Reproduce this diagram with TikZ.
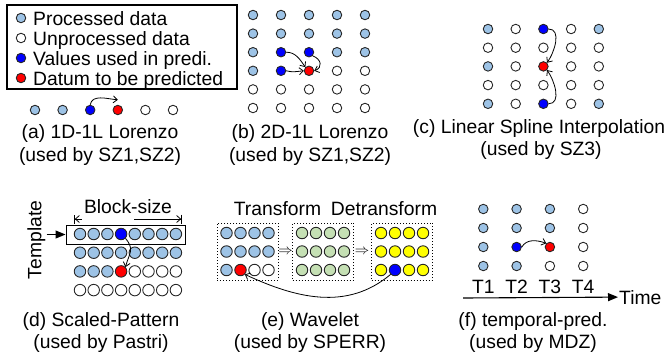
\documentclass[tikz,border=0pt]{standalone}
\usepackage{fontspec}
\setmainfont{Liberation Sans}
\usetikzlibrary{arrows.meta}
\definecolor{cp}{HTML}{9DC3E6} % processed
\definecolor{cu}{HTML}{FFFFFF} % unprocessed
\definecolor{cb}{HTML}{0000FF} % used in prediction
\definecolor{cr}{HTML}{FF0000} % to be predicted
\definecolor{cg}{HTML}{C5E0B4} % wavelet coeff.
\definecolor{cy}{HTML}{FFFF00} % detransformed
\tikzset{
    dot/.style = {circle, draw=black!85, line width=0.9pt, inner sep=0pt, minimum size=9.5pt},
    dotl/.style = {dot, minimum size=11.5pt},
    txt/.style = {inner sep=1pt, font=\fontsize{19.3}{22}\selectfont},
    edgen/.style = {-{Straight Barb[length=4pt,width=7pt]}, line width=0.8pt},
    edgef/.style = {-{Triangle[length=10pt,width=8pt]}, line width=1.1pt},
    dimenl/.style = {{Bar[width=9pt]Straight Barb[length=4pt,width=7pt]}-, line width=0.8pt},
    dimenr/.style = {-{Straight Barb[length=4pt,width=7pt]Bar[width=9pt]}, line width=0.8pt},
    wbox/.style = {draw, dotted, line width=1pt, minimum width=61pt, minimum height=57pt, inner sep=0pt},
    lbox/.style = {draw, line width=1.1pt, inner sep=0pt}
}
\begin{document}
\begin{tikzpicture}[x=1pt,y=-1pt]
\useasboundingbox (0,0) rectangle (671,354);
%
% legend
\node[lbox, minimum width=230pt, minimum height=84pt] (legend) at (122,47) {};
\node[dot,fill=cp] (l1) at (21,18) {};
\node[dot,fill=cu] (l2) at (21,38) {};
\node[dot,fill=cb] (l3) at (21,58) {};
\node[dot,fill=cr] (l4) at (21,78) {};
\node[txt,anchor=base west] (lt1) at (32,25) {Processed data};
\node[txt,anchor=base west] (lt2) at (32,45) {Unprocessed data};
\node[txt,anchor=base west] (lt3) at (32,65) {Values used in predi.};
\node[txt,anchor=base west] (lt4) at (32,85) {Datum to be predicted};
%
% (a) 1D
\foreach \f [count=\c] in {cp,cp,cb,cr,cu,cu}
    \node[dot,fill=\f] (a\c) at ({7.4+27.6*\c},110) {};
\draw[edgen] (a3.north) to[out=80,in=175] ([yshift=5pt]a4.north);
\node[txt,anchor=base] (capa1) at (100,138) {(a) 1D-1L Lorenzo};
\node[txt,anchor=base] (capa2) at (100,161) {(used by SZ1,SZ2)};
%
% (b) 2D
\foreach \cl [count=\r] in {{cp,cp,cp,cp,cp},{cp,cp,cp,cp,cp},{cp,cb,cb,cp,cp},
                            {cp,cb,cr,cu,cu},{cu,cu,cu,cu,cu},{cu,cu,cu,cu,cu}}
    \foreach \f [count=\c] in \cl
        \node[dot,fill=\f] (b-\c-\r) at ({225+28*\c},{-3.6+18.6*\r}) {};
\draw[edgen] (b-2-3.east) to[out=0,in=125] (b-3-4.north west);
\draw[edgen] (b-3-3.south east) to[out=-20,in=20,looseness=1.6] (b-3-4.east);
\draw[edgen] (b-2-4.east) to[out=-15,in=185] (b-3-4.west);
\node[txt,anchor=base] (capb1) at (310,138) {(b) 2D-1L Lorenzo};
\node[txt,anchor=base] (capb2) at (310,161) {(used by SZ1,SZ2)};
%
% (c) spline
\foreach \cl [count=\r] in {{cp,cu,cb,cu,cp},{cu,cu,cu,cu,cu},{cp,cu,cr,cu,cu},
                            {cu,cu,cu,cu,cu},{cp,cu,cb,cu,cp}}
    \foreach \f [count=\c] in \cl
        \node[dot,fill=\f] (c-\c-\r) at ({460.3+27.7*\c},{10.3+18.7*\r}) {};
\draw[edgen] (c-3-1.east) to[out=0,in=55] (c-3-3.north east);
\draw[edgen] (c-3-5.east) to[out=0,in=-55] (c-3-3.south east);
\node[txt,anchor=base] (capc1) at (539,133) {(c) Linear Spline Interpolation};
\node[txt,anchor=base] (capc2) at (541,155) {(used by SZ3)};
%
% (d) scaled pattern
\node[lbox, line width=1pt, minimum width=119pt, minimum height=19pt] (tmpl) at (125.5,234.5) {};
\foreach \cl [count=\r] in {{cp,cp,cp,cb,cp,cp,cp,cp},{cp,cp,cp,cp,cp,cp,cp,cp},
                            {cp,cp,cp,cr,cu,cu,cu,cu},{cu,cu,cu,cu,cu,cu,cu,cu}}
    \foreach \f [count=\c] in \cl
        \node[dotl,fill=\f] (d-\c-\r) at ({66.3+13.7*\c},{215.3+18.7*\r}) {};
\node[txt,rotate=90] (tmplt) at (36.5,240) {Template};
\draw[edgef] (tmplt.south |- tmpl.west) -- (tmpl.west);
\coordinate (bsl) at (74,219);
\coordinate (bsa) at (82,219);
\coordinate (bsb) at (134,219);
\coordinate (bsr) at (182,219);
\draw[dimenl] (bsl) -- (bsa);
\draw[dimenr] (bsb) -- (bsr);
\node[txt,anchor=base] (bsize) at (128,213) {Block-size};
\draw[edgen] (d-4-1.south east) to[out=-50,in=75,looseness=1.3] (d-4-3.north east);
\node[txt,anchor=base] (capd1) at (101,326) {(d) Scaled-Pattern};
\node[txt,anchor=base] (capd2) at (101,348) {(used by Pastri)};
%
% (e) wavelet
\node[wbox] (e1) at (247.5,251.5) {};
\node[wbox] (e2) at (323,251.5) {};
\node[wbox] (e3) at (402,251.5) {};
\foreach \cl [count=\r] in {{cp,cp,cp,cp},{cp,cp,cp,cp},{cp,cr,cu,cu}}
    \foreach \f [count=\c] in \cl
        \node[dotl,fill=\f] (e1-\c-\r) at ({212.5+14*\c},{214.5+18.5*\r}) {};
\foreach \cl [count=\r] in {{cg,cg,cg,cg},{cg,cg,cg,cg},{cg,cg,cg,cg}}
    \foreach \f [count=\c] in \cl
        \node[dotl,fill=\f] (e2-\c-\r) at ({288+14*\c},{214.5+18.5*\r}) {};
\foreach \cl [count=\r] in {{cy,cy,cy,cy},{cy,cy,cy,cy},{cy,cb,cy,cy}}
    \foreach \f [count=\c] in \cl
        \node[dotl,fill=\f] (e3-\c-\r) at ({367+14*\c},{214.5+18.5*\r}) {};
\node[inner sep=0pt,font=\fontsize{14}{14}\selectfont] (ea1) at (285.5,252) {$\Rightarrow$};
\node[inner sep=0pt,font=\fontsize{14}{14}\selectfont] (ea2) at (362,252) {$\Rightarrow$};
\node[txt,anchor=base] (etr) at (277.5,215) {Transform};
\node[txt,anchor=base] (edtr) at (384,215) {Detransform};
\draw[edgen] (e3-2-3.south west) to[out=-140,in=-25] (e1-2-3.south east);
\node[txt,anchor=base] (cape1) at (310,326) {(e) Wavelet};
\node[txt,anchor=base] (cape2) at (310,348) {(used by SPERR)};
%
% (f) temporal
\foreach \cl [count=\r] in {{cp,cp,cp,cu},{cp,cp,cp,cu},{cp,cb,cr,cu},{cp,cp,cu,cu}}
    \foreach \f [count=\c] in \cl
        \node[dot,fill=\f] (f-\c-\r) at ({450+33.3*\c},{190+19*\r}) {};
\draw[edgen] (f-2-3.east) to[out=60,in=160] (f-3-3.north west);
\foreach \c in {1,...,4}
    \node[txt,anchor=base] (t\c) at ({450+33.3*\c},293) {T\c};
\coordinate (tst) at (463,298);
\node[txt,anchor=base west] (time) at (618,304) {Time};
\draw[edgef] (tst) -- (time.west);
\node[txt,anchor=base] (capf1) at (533,326) {(f) temporal-pred.};
\node[txt,anchor=base] (capf2) at (533,348) {(used by MDZ)};
\end{tikzpicture}
\end{document}
